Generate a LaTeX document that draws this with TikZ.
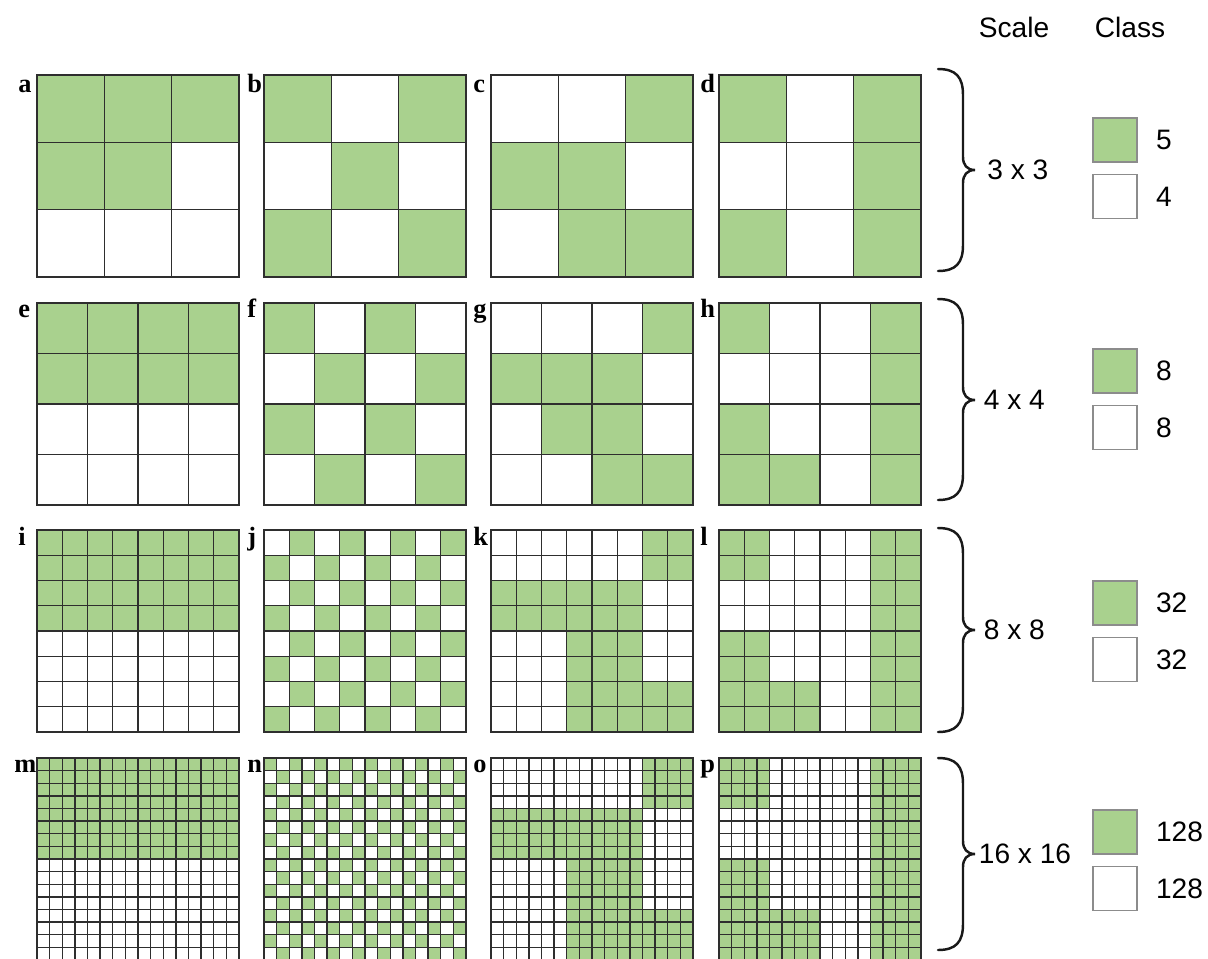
\documentclass[tikz,border=0pt]{standalone}
\usepackage{fontspec}
\setmainfont{Liberation Serif}
\setsansfont{Liberation Sans}
\usepackage{tikz}
\usetikzlibrary{positioning}

\definecolor{leafgreen}{HTML}{A9D18E}
\definecolor{gridgray}{HTML}{2E2E2E}

\tikzset{
  gridline/.style={draw=gridgray, line width=0.8pt, line cap=rect},
  bracket/.style={draw=black!90, line width=1.4pt, line cap=round},
  panellabel/.style={font=\bfseries\fontsize{15}{18}\selectfont, inner sep=0pt, anchor=base west},
  sidetext/.style={font=\sffamily\fontsize{16}{19}\selectfont, inner sep=2pt},
  legendbox/.style={draw=black!45, line width=0.8pt, minimum size=0.88cm, inner sep=0pt}
}

\newcommand{\boxgrid}[4]{%
  \begin{scope}[shift={(#1,#2)}, scale=202/#3]
    \foreach \xa/\ya/\xb/\yb in {#4}
      \fill[leafgreen] (\xa,\ya) rectangle (\xb,\yb);
    \foreach \k in {0,...,#3}
      \draw[gridline] (\k,0) -- (\k,#3) (0,\k) -- (#3,\k);
  \end{scope}}

\newcommand{\checkgrid}[4]{%
  \begin{scope}[shift={(#1,#2)}, scale=202/#3]
    \foreach \r in {1,...,#3}
      \foreach \c in {1,...,#3} {
        \pgfmathtruncatemacro{\cellpar}{mod(\r+\c+#4,2)}
        \ifnum\cellpar=0 \fill[leafgreen] (\c-1,\r-1) rectangle (\c,\r); \fi
      }
    \foreach \k in {0,...,#3}
      \draw[gridline] (\k,0) -- (\k,#3) (0,\k) -- (#3,\k);
  \end{scope}}

\newcommand{\scalebrace}[4]{%
  \draw[bracket] (938,#1) .. controls (956,#1) and (963,{#1+8}) .. (963,{#1+26})
    -- (963,{#2-13}) .. controls (963,{#2-5}) and (967,#2) .. (975,#2)
    .. controls (967,#2) and (963,{#2+5}) .. (963,{#2+13})
    -- (963,{#3-26}) .. controls (963,{#3-8}) and (956,#3) .. (938,#3);
  \coordinate (#4) at (975,#2);}

\begin{document}
\begin{tikzpicture}[x=0.02cm, y=-0.02cm]
	\useasboundingbox (0,0) rectangle (1208,958);
	
	\boxgrid{37}{75}{3}{0/0/3/1, 0/1/2/2}
	\boxgrid{264}{75}{3}{0/0/1/1, 2/0/3/1, 1/1/2/2, 0/2/1/3, 2/2/3/3}
	\boxgrid{491}{75}{3}{2/0/3/1, 0/1/2/2, 1/2/3/3}
	\boxgrid{719}{75}{3}{0/0/1/1, 2/0/3/3, 0/2/1/3}
	
	\boxgrid{37}{303}{4}{0/0/4/2}
	\checkgrid{264}{303}{4}{0}
	\boxgrid{491}{303}{4}{3/0/4/1, 0/1/3/2, 1/2/3/3, 2/3/4/4}
	\boxgrid{719}{303}{4}{0/0/1/1, 3/0/4/4, 0/2/1/3, 0/3/2/4}
	
	\boxgrid{37}{530}{8}{0/0/8/4}
	\checkgrid{264}{530}{8}{1}
	\boxgrid{491}{530}{8}{6/0/8/2, 0/2/6/4, 3/4/6/8, 6/6/8/8}
	\boxgrid{719}{530}{8}{0/0/2/2, 6/0/8/8, 0/4/2/8, 2/6/4/8}
	
	\boxgrid{37}{758}{16}{0/0/16/8}
	\checkgrid{264}{758}{16}{0}
	\boxgrid{491}{758}{16}{12/0/16/4, 0/4/12/8, 6/8/12/16, 12/12/16/16}
	\boxgrid{719}{758}{16}{0/0/4/4, 12/0/16/16, 0/8/4/16, 4/12/8/16}
	
	\foreach \name/\x/\y in {a/18/92, b/247/92, c/473/92, d/700/92,
	                         e/18/317, f/247/317, g/473/317, h/700/317,
	                         i/18/545, j/247/545, k/473/545, l/700/545,
	                         m/14/772, n/247/772, o/473/772, p/700/772}
		\node[panellabel] (lab-\name) at (\x,\y) {\name};
	
	\node[sidetext, anchor=base] (hdr-scale) at (1014,37) {Scale};
	\node[sidetext, anchor=base] (hdr-class) at (1130,37) {Class};
	
	\scalebrace{69}{170}{271}{tip3}
	\scalebrace{299}{400}{500}{tip4}
	\scalebrace{528}{630}{732}{tip8}
	\scalebrace{758}{854}{950}{tip16}
	
	\node[sidetext, right=0.17cm of tip3] (size3) {3 x 3};
	\node[sidetext, right=0.1cm of tip4] (size4) {4 x 4};
	\node[sidetext, right=0.1cm of tip8] (size8) {8 x 8};
	\node[sidetext, right=0cm of tip16] (size16) {16 x 16};
	
	\node[legendbox, fill=leafgreen] (cls3g) at (1115,140) {};
	\node[legendbox, fill=white, below=0.22cm of cls3g] (cls3w) {};
	\node[legendbox, fill=leafgreen] (cls4g) at (1115,371) {};
	\node[legendbox, fill=white, below=0.22cm of cls4g] (cls4w) {};
	\node[legendbox, fill=leafgreen] (cls8g) at (1115,603) {};
	\node[legendbox, fill=white, below=0.22cm of cls8g] (cls8w) {};
	\node[legendbox, fill=leafgreen] (cls16g) at (1115,832) {};
	\node[legendbox, fill=white, below=0.22cm of cls16g] (cls16w) {};
	
	\node[sidetext, right=0.29cm of cls3g] (num3g) {5};
	\node[sidetext, right=0.29cm of cls3w] (num3w) {4};
	\node[sidetext, right=0.29cm of cls4g] (num4g) {8};
	\node[sidetext, right=0.29cm of cls4w] (num4w) {8};
	\node[sidetext, right=0.29cm of cls8g] (num8g) {32};
	\node[sidetext, right=0.29cm of cls8w] (num8w) {32};
	\node[sidetext, right=0.29cm of cls16g] (num16g) {128};
	\node[sidetext, right=0.29cm of cls16w] (num16w) {128};
\end{tikzpicture}
\end{document}
